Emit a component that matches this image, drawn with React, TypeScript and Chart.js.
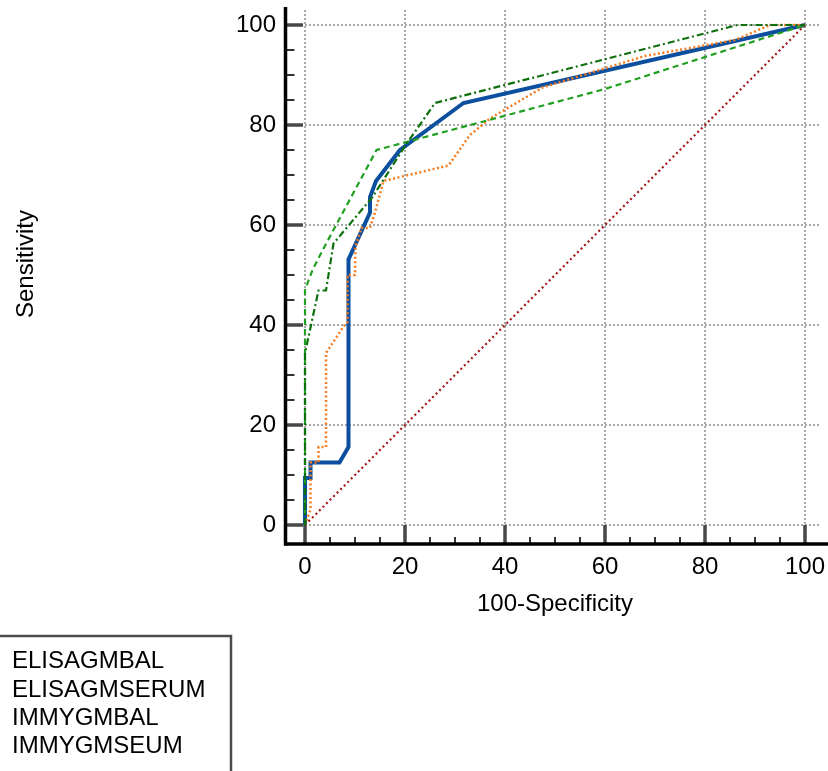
import React, { useEffect, useRef } from "react";
import { Chart, registerables } from "chart.js";
Chart.register(...registerables);

// ---- data ----
const seriesLabels = ["ELISAGMBAL", "ELISAGMSERUM", "IMMYGMBAL", "IMMYGMSEUM"];

const elisaBalX = [0, 0, 1.1, 1.1, 6.9, 8.7, 8.7, 13, 13, 14.2, 19, 31.7, 100];
const elisaBalY = [0, 9.4, 9.4, 12.5, 12.5, 15.6, 53.1, 62.5, 65.6, 68.8, 75, 84.4, 100];

const elisaSerumX = [0, 1.1, 1.1, 2.7, 2.7, 4.2, 4.2, 7.7, 8.5, 8.5, 10, 10.1, 11.3, 13, 14, 15.7, 28.7, 33, 37, 47.5, 68, 86, 93, 100];
const elisaSerumY = [0, 3.1, 12.5, 12.5, 15.6, 15.6, 34.4, 39.7, 40.6, 50, 50, 55.7, 59.4, 59.4, 62.5, 68.8, 71.9, 78, 81.3, 87.5, 93.8, 97, 100, 100];

const immyBalX = [0, 0, 2.7, 4.2, 5.7, 13.5, 20, 26, 86.5, 100];
const immyBalY = [0, 34.4, 46.9, 46.9, 56.3, 65.6, 75.8, 84.4, 100, 100];

const immySerumX = [0, 0, 1.5, 3.7, 14.3, 60, 100];
const immySerumY = [0, 47, 51, 55.3, 75, 87.2, 100];

const refX = [0, 100];
const refY = [0, 100];

const xTicks = [0, 20, 40, 60, 80, 100];
const yTicks = [0, 20, 40, 60, 80, 100];
const minorStep = 5;

const xTitle = "100-Specificity";
const yTitle = "Sensitivity";

const FONT = "24px 'Liberation Sans', Arial, sans-serif";

const zip = (xs: number[], ys: number[]) => xs.map((x, i) => ({ x, y: ys[i] }));

const axesPlugin = {
  id: "customAxes",
  beforeDatasetsDraw(chart: any) {
    const ctx = chart.ctx;
    const xs = chart.scales.x;
    const ys = chart.scales.y;
    const ca = chart.chartArea;
    ctx.save();
    ctx.strokeStyle = "#a8a8a8";
    ctx.lineWidth = 2;
    ctx.setLineDash([2, 2]);
    const y0 = ys.getPixelForValue(0);
    const x0 = xs.getPixelForValue(0);
    for (const t of xTicks) {
      const px = Math.round(xs.getPixelForValue(t));
      ctx.beginPath();
      ctx.moveTo(px, ca.top + 2);
      ctx.lineTo(px, y0);
      ctx.stroke();
    }
    for (const t of yTicks) {
      const py = Math.round(ys.getPixelForValue(t));
      ctx.beginPath();
      ctx.moveTo(x0, py);
      ctx.lineTo(ca.right, py);
      ctx.stroke();
    }
    ctx.restore();
  },
  afterDraw(chart: any) {
    const ctx = chart.ctx;
    const xs = chart.scales.x;
    const ys = chart.scales.y;
    const ca = chart.chartArea;
    const y0 = ys.getPixelForValue(0);
    const x0 = xs.getPixelForValue(0);
    const axisX = ca.left + 0.5;
    const axisY = ca.bottom;
    ctx.save();
    // major ticks
    ctx.strokeStyle = "#474747";
    ctx.lineWidth = 3.5;
    for (const t of xTicks) {
      const px = Math.round(xs.getPixelForValue(t));
      ctx.beginPath();
      ctx.moveTo(px, y0);
      ctx.lineTo(px, axisY);
      ctx.stroke();
    }
    for (const t of yTicks) {
      const py = Math.round(ys.getPixelForValue(t));
      ctx.beginPath();
      ctx.moveTo(axisX, py);
      ctx.lineTo(x0 - 2, py);
      ctx.stroke();
    }
    // minor ticks
    ctx.lineWidth = 2;
    ctx.strokeStyle = "#333";
    for (let v = 0; v <= 100; v += minorStep) {
      if (v % 20 === 0) continue;
      const px = Math.round(xs.getPixelForValue(v));
      ctx.beginPath();
      ctx.moveTo(px, axisY);
      ctx.lineTo(px, axisY - 7);
      ctx.stroke();
      const py = Math.round(ys.getPixelForValue(v));
      ctx.beginPath();
      ctx.moveTo(axisX, py);
      ctx.lineTo(axisX + 9, py);
      ctx.stroke();
    }
    // axis lines
    ctx.strokeStyle = "#000";
    ctx.lineWidth = 3.5;
    ctx.beginPath();
    ctx.moveTo(axisX, ca.top - 1);
    ctx.lineTo(axisX, axisY + 1.5);
    ctx.stroke();
    ctx.beginPath();
    ctx.moveTo(axisX - 1.5, axisY);
    ctx.lineTo(chart.width, axisY);
    ctx.stroke();
    // tick labels
    ctx.fillStyle = "#000";
    ctx.font = FONT;
    ctx.textAlign = "center";
    ctx.textBaseline = "middle";
    for (const t of xTicks) {
      ctx.fillText(String(t), xs.getPixelForValue(t), 567);
    }
    ctx.textAlign = "right";
    for (const t of yTicks) {
      ctx.fillText(String(t), 276, ys.getPixelForValue(t));
    }
    // titles
    ctx.textAlign = "center";
    ctx.fillText(xTitle, (xs.getPixelForValue(0) + xs.getPixelForValue(100)) / 2, 604);
    ctx.save();
    ctx.translate(26, 264);
    ctx.rotate(-Math.PI / 2);
    ctx.fillText(yTitle, 0, 0);
    ctx.restore();
    // legend box
    ctx.strokeStyle = "#4d4d4d";
    ctx.lineWidth = 2.5;
    ctx.beginPath();
    ctx.moveTo(-2, 636);
    ctx.lineTo(231, 636);
    ctx.lineTo(231, chart.height + 5);
    ctx.stroke();
    ctx.textAlign = "left";
    const rows = [661, 690, 718, 746];
    seriesLabels.forEach((lab, i) => ctx.fillText(lab, 12, rows[i]));
    ctx.restore();
  },
};

export default function App() {
  const ref = useRef<HTMLCanvasElement | null>(null);
  useEffect(() => {
    if (!ref.current) return;
    const common = { showLine: true, pointRadius: 0, tension: 0, fill: false };
    const chart = new Chart(ref.current, {
      type: "scatter",
      data: {
        datasets: [
          { ...common, label: seriesLabels[0], data: zip(elisaBalX, elisaBalY), borderColor: "#0b4f9e", borderWidth: 4, order: 5 },
          { ...common, label: seriesLabels[1], data: zip(elisaSerumX, elisaSerumY), borderColor: "#f57c20", borderWidth: 2.5, borderDash: [2, 2.5], order: 3 },
          { ...common, label: seriesLabels[2], data: zip(immyBalX, immyBalY), borderColor: "#0d700d", borderWidth: 2.2, borderDash: [7, 3, 2, 3], order: 1 },
          { ...common, label: seriesLabels[3], data: zip(immySerumX, immySerumY), borderColor: "#22a022", borderWidth: 2.2, borderDash: [6, 4], order: 2 },
          { ...common, label: "reference", data: zip(refX, refY), borderColor: "#a31818", borderWidth: 2.2, borderDash: [2, 3], order: 4 },
        ],
      },
      options: {
        responsive: false,
        animation: false,
        layout: { padding: { left: 285, right: 8, top: 8, bottom: 227 } },
        scales: {
          x: { type: "linear", min: -4, max: 103, display: false },
          y: { type: "linear", min: -3.8, max: 103.4, display: false },
        },
        plugins: { legend: { display: false }, tooltip: { enabled: false } },
      },
      plugins: [axesPlugin],
    } as any);
    return () => chart.destroy();
  }, []);
  return (
    <div style={{ position: "absolute", left: 0, top: 0, width: 828, height: 771, background: "#fff" }}>
      <canvas ref={ref} width={828} height={771} style={{ display: "block" }} />
    </div>
  );
}
